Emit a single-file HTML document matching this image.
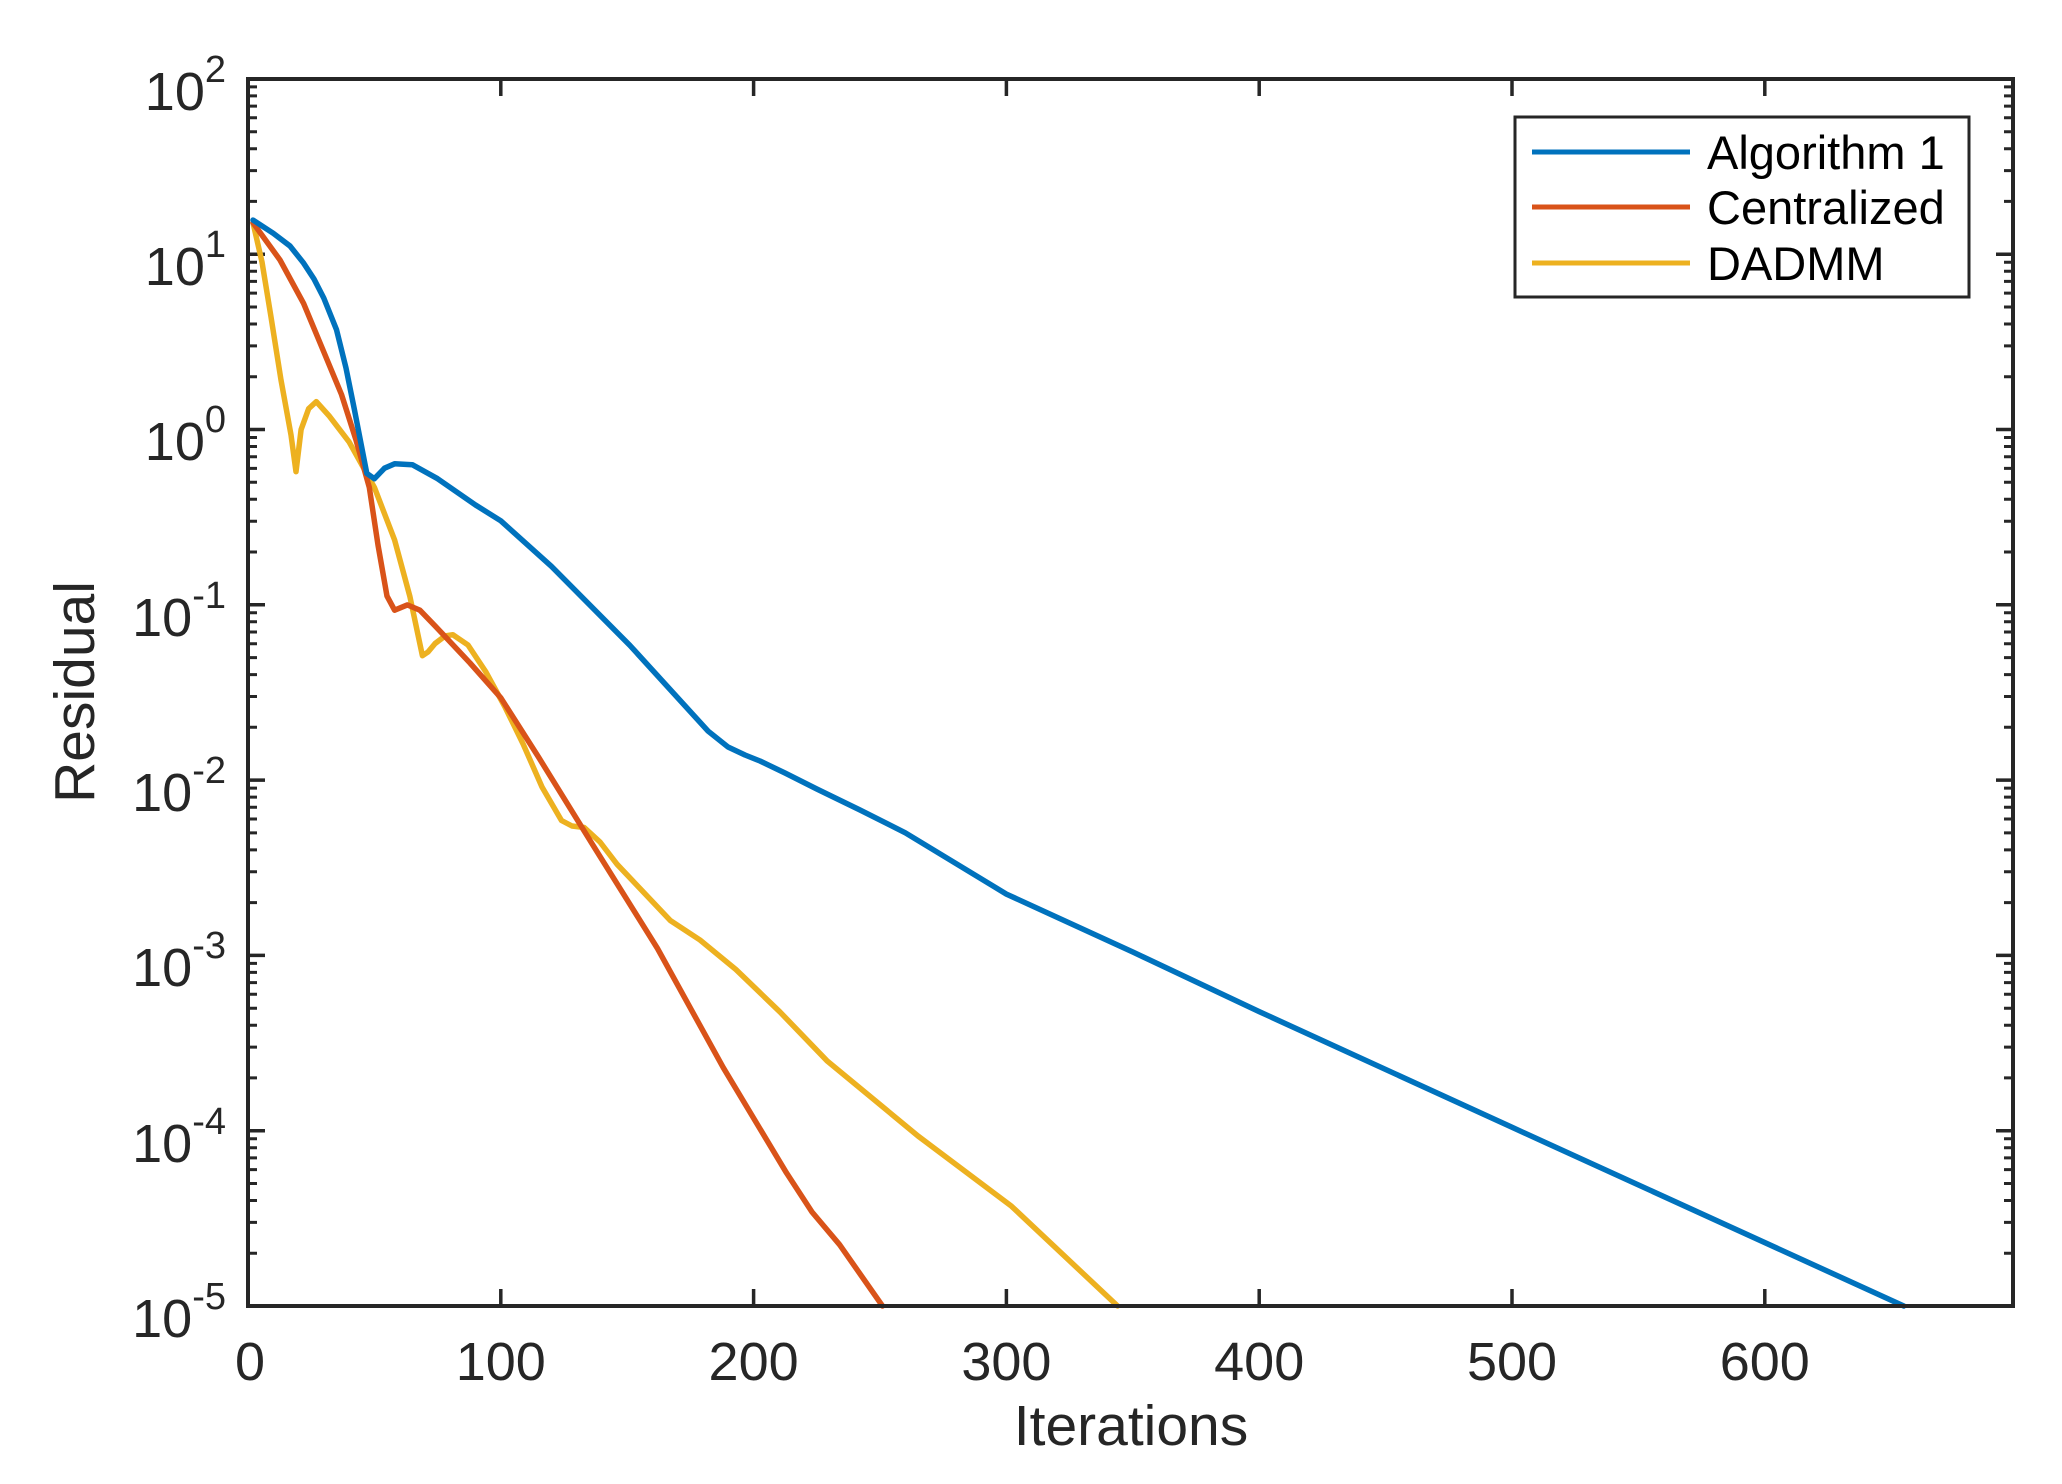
<!DOCTYPE html>
<html><head><meta charset="utf-8"><style>html,body{margin:0;padding:0;background:#fff}svg{display:block}</style></head>
<body>
<svg width="2062" height="1484" viewBox="0 0 2062 1484" xmlns="http://www.w3.org/2000/svg" font-family="Liberation Sans, Arial, sans-serif" fill="#262626">
<rect width="2062" height="1484" fill="#fff"/>
<defs>
<path id="m" d="M248 -52.8h9M248 -83.6h9M248 -105.5h9M248 -122.5h9M248 -136.4h9M248 -148.1h9M248 -158.3h9M248 -167.3h9M2013 -52.8h-9M2013 -83.6h-9M2013 -105.5h-9M2013 -122.5h-9M2013 -136.4h-9M2013 -148.1h-9M2013 -158.3h-9M2013 -167.3h-9" stroke="#262626" stroke-width="3" fill="none"/>
</defs>
<g>
<use href="#m" y="1306"/><use href="#m" y="1130.7"/><use href="#m" y="955.4"/><use href="#m" y="780.1"/><use href="#m" y="604.8"/><use href="#m" y="429.5"/><use href="#m" y="254.2"/>
</g>
<g stroke="#262626" stroke-width="3.5" fill="none">
<path d="M248 1306h17M248 1130.7h17M248 955.4h17M248 780.1h17M248 604.8h17M248 429.5h17M248 254.2h17M248 79h17"/>
<path d="M2013 1306h-17M2013 1130.7h-17M2013 955.4h-17M2013 780.1h-17M2013 604.8h-17M2013 429.5h-17M2013 254.2h-17M2013 79h-17"/>
<path d="M500.8 1306v-17M753.6 1306v-17M1006.4 1306v-17M1259.2 1306v-17M1512 1306v-17M1764.8 1306v-17"/>
<path d="M500.8 79v17M753.6 79v17M1006.4 79v17M1259.2 79v17M1512 79v17M1764.8 79v17"/>
</g>
<g fill="none" stroke-width="5.5" stroke-linejoin="round" stroke-linecap="round">
<polyline stroke="#EDB120" points="253,222.8 262,262 270.8,315.7 281,380 291,434.9 296,471.7 301.1,429.6 308.7,408.6 316.3,401.6 328.9,415.6 349.1,441.9 374.4,487.4 394.6,540 409.8,596.1 422.4,655.7 428,652 435.1,643.5 445,636 452.8,634.7 468,645 485.6,671.5 505,707 523.6,745.1 542,787 561.5,820.5 572,826 584.2,827.5 600,842 617.1,864.3 670.2,920.4 700,940 735.9,969.5 780,1012 826.9,1060.7 918,1136 1011.5,1206.2 1117.6,1306"/>
<polyline stroke="#D95319" points="253,222.8 280,260 303.6,303.4 323,350 341.5,394.5 356,440 369.3,487.4 378,545 387,596.1 394.6,610.2 407.3,604.9 419.9,610.2 435.1,625.9 470,663 500.8,697.8 538.7,757.4 591.8,843.3 657.5,948.5 723.3,1067.7 786.5,1172.9 812,1212 839.6,1244.7 882.5,1306"/>
<polyline stroke="#0072BD" points="253,220.1 273.3,233.3 290,246 303.6,263.1 314,279 323.8,298.1 336.5,329.7 346,368 354.2,408.6 366.8,473.4 374.4,478.7 384.5,468.2 394.6,463.8 412.3,464.7 437.6,478.7 475.5,505 500.8,520.8 551.4,566.3 629.7,645.2 708.1,731.1 728,747 745,755 760,761 785,773 816.8,789 860,810 905.3,832.8 1006.4,894.1 1132.8,952 1259.2,1011.6 1512,1127.3 1903.8,1306"/>
</g>
<rect x="248" y="79" width="1765" height="1227" fill="none" stroke="#262626" stroke-width="4"/>
<g font-size="54" text-anchor="middle">
<text x="250" y="1380">0</text><text x="500.8" y="1380">100</text><text x="753.6" y="1380">200</text><text x="1006.4" y="1380">300</text><text x="1259.2" y="1380">400</text><text x="1512" y="1380">500</text><text x="1764.8" y="1380">600</text>
</g>
<g font-size="57" text-anchor="middle">
<text x="1131" y="1445">Iterations</text>
<text transform="translate(94,692) rotate(-90)">Residual</text>
</g>
<g font-size="54" text-anchor="end">
<text x="226" y="110">10<tspan dy="-28" font-size="38">2</tspan></text>
<text x="226" y="285">10<tspan dy="-28" font-size="38">1</tspan></text>
<text x="226" y="460">10<tspan dy="-28" font-size="38">0</tspan></text>
<text x="226" y="636">10<tspan dy="-28" font-size="38">-1</tspan></text>
<text x="226" y="811">10<tspan dy="-28" font-size="38">-2</tspan></text>
<text x="226" y="986">10<tspan dy="-28" font-size="38">-3</tspan></text>
<text x="226" y="1162">10<tspan dy="-28" font-size="38">-4</tspan></text>
<text x="226" y="1337">10<tspan dy="-28" font-size="38">-5</tspan></text>
</g>
<rect x="1515" y="117" width="454" height="180" fill="#fff" stroke="#262626" stroke-width="3"/>
<g stroke-width="5">
<line x1="1532" y1="152" x2="1690" y2="152" stroke="#0072BD"/>
<line x1="1532" y1="207" x2="1690" y2="207" stroke="#D95319"/>
<line x1="1532" y1="263" x2="1690" y2="263" stroke="#EDB120"/>
</g>
<g font-size="47" fill="#000">
<text x="1707" y="169">Algorithm 1</text>
<text x="1707" y="224">Centralized</text>
<text x="1707" y="280">DADMM</text>
</g>
</svg>
</body></html>
